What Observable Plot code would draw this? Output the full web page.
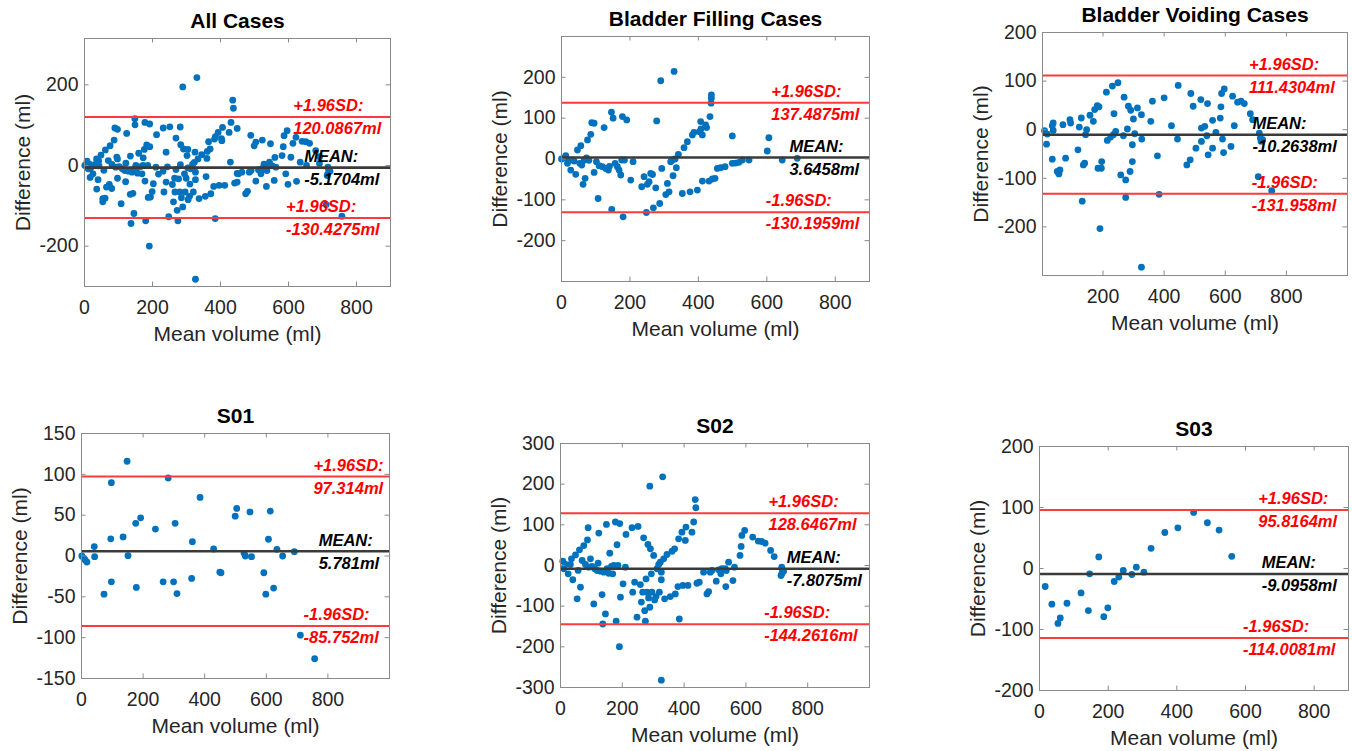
<!DOCTYPE html>
<html><head><meta charset="utf-8">
<script src="https://cdn.jsdelivr.net/npm/d3@7"></script>
<script src="https://cdn.jsdelivr.net/npm/@observablehq/plot@0.6"></script>
<style>
html,body{margin:0;padding:0;background:#fff;overflow:hidden;width:1352px;height:751px;}
#root{position:relative;width:1352px;height:751px;overflow:hidden;}
.panel{position:absolute;}
</style></head><body><div id="root"></div>
<script>
// ---- data: [mean volume (ml), difference (ml)] ----
const s01 = [[1,0],[8,-3],[12,-5],[17.6,-7.4],[41.5,11.5],[42.6,-0.8],[73,-46.7],[97,89.8],[97,-31.6],[95,21],[135,23.4],[148,116],[151,0.4],[176,40],[178,-38.5],[192,46.7],[240,33],[265,-31.6],[281.5,95.5],[299,-31.6],[304,40],[310,-46],[357.5,-27.5],[360,17.6],[385,71.7],[429,8.6],[449,-19.7],[453,-20.5],[499,48.8],[504,58.2],[528,3.3],[532,0],[547,54],[552,-0.8],[592,-20.5],[598.5,-46.7],[607,20.5],[613,55],[623.7,-39.3],[634.5,8.2],[653,0],[691,5.3],[710.6,-97],[757,-125.8]];

const s02 = [[7.5,10.7],[10.8,-8],[16,2.5],[24.8,-20.5],[32,2.5],[39.8,-35],[35.5,16.4],[48.5,26],[53.8,-82],[57,-12],[61.4,38.6],[64.6,-53.4],[70,12.3],[75.4,49],[80.8,2.5],[87.2,63],[89.4,93],[91.5,-4],[97,16.4],[102,-2.5],[107.7,-94.5],[111,-8],[118.5,-12.3],[124,79.7],[121.7,5.8],[129,-14],[134.6,-71.5],[136.8,-143.8],[140,-16.4],[145.4,-119],[148.6,101],[150.8,-8],[156,-19],[159.4,30.4],[164.8,-2.5],[169,-20.5],[172,0],[177.7,107],[180,-137],[183,51],[186,0],[191.7,103],[194,-78],[190.6,-199.7],[202.5,-45],[210,-4],[212,76.4],[231.5,93],[233.7,-65.7],[240,-41],[247.7,-127],[251,96],[258.5,-47],[261.7,-90],[269,68],[266,-65.7],[272.5,-111],[274.7,-137],[276.8,-33],[280,-65.7],[283,51.8],[289,195],[285,-79.7],[291,41],[289,-102.7],[294,-20.5],[296,-65.7],[301.5,24.7],[304.7,-84.6],[309,-76.4],[312.3,-8],[317.7,2.5],[320,-65.7],[323,8],[326.3,-16.4],[326.3,-35],[326.3,-282],[330.6,218],[333.9,16.4],[337,-82],[344.6,27],[355.4,-76.4],[361,35],[369.4,41],[371.6,-70],[382.3,65.7],[384.5,-131.5],[380,-51.8],[393,82],[396,-49],[404,61.6],[406,94.5],[412.5,-49],[425.4,82],[431,107],[436,162],[438,142],[441.5,-43.6],[449,-41],[463,-16.4],[474,-70],[479.4,-64],[484.7,-16.4],[490,-12.3],[504,-38.6],[511.6,-10.7],[522,-8],[533,-8],[535,-51.8],[519,-20.5],[536.6,-12.3],[544,8.2],[558,-37],[563,-4],[581,24.7],[584.6,46.8],[587,74],[596,86.3],[622,70],[640,60],[651,59],[662,55],[680,37],[691.6,22],[716,-4],[716,-20.5],[722,-14],[713.6,-24.7],[718,-10]];

const s03 = [[16.6,-29.5],[36,-58.5],[53.7,-90],[60.5,-81],[80,-57],[121,-40],[142.4,-69],[146,-8.7],[172.7,19],[187.3,-79],[199,-64.5],[217.6,-21.3],[231,-14],[244,-3.3],[269,-9.8],[282,2.2],[304,-6],[325,33],[365,59],[403,66.7],[449,92],[489,75],[523,63],[560,20]];

const filling = [[0,0],[7.7,3],[12.5,8],[17.4,-10.6],[22,-2.5],[27,-27],[32,-2.5],[37,-5],[41.7,-37.6],[46.6,22],[56.4,32.7],[53.4,-10.6],[59.3,-14.8],[63,-62],[69,-47.4],[66,-3],[73,3],[76,46.6],[80,-3],[85.6,60.5],[88.4,89],[95.3,87.5],[95.3,-32.8],[102,-6.6],[107,-96.7],[110,-16.4],[119.6,-18.8],[124.5,77],[129.3,-23],[137,-27],[140,-18],[146,114.6],[146.8,-123.7],[150.8,100],[156.6,-10.6],[163.4,-18.8],[168.3,-27],[173.1,-39.2],[176,-2.5],[178,104],[180,-141.7],[184,-2.5],[190.6,95.7],[202.3,-51.5],[209.1,-6.6],[234.4,-68],[241.2,-43.4],[248,-131],[251,-62],[255.9,-55.6],[260.7,-35.3],[266,-38],[275.4,-70.5],[278.2,93.3],[268.5,-119.6],[287,-109],[293,-23],[290,191.6],[304.6,-87],[309.5,-59.8],[314.3,-80.3],[319,-6.6],[324,-2.5],[329,214.5],[326,-41],[331.8,0],[335.6,-21.3],[341.5,11.4],[358,27.8],[353,-84.5],[367.8,42.5],[375.6,-80.3],[382.4,59],[387.2,65.4],[397,-76.2],[403.3,67],[407.6,73.6],[411.5,59],[421,83.5],[431,-54],[434,104],[437.8,149],[438,157],[437,136.7],[440.8,-49],[448.6,-47.4],[455.4,-23],[465,-21.3],[478,-18.8],[499.2,56.4],[499,-10.6],[509,-10],[518.6,-8.2],[528.4,-2.5],[548,-2.5],[601.3,19.6],[606,52],[645,-2.5],[688.8,1.6],[411.6,-54],[424,77],[406.7,91.6]];

const voiding = [[8.7,-2],[15.3,-29.7],[17.5,-9],[33.9,8.3],[37,13.8],[34,-60.7],[37,-1.4],[50.3,-86],[55.7,-91],[59,-82.8],[68.9,10.3],[77.6,-58.6],[91.8,20.7],[94,13.8],[118,-41.4],[122.4,5.5],[129,24.1],[132,-147],[135.5,-72.4],[140,-69],[143,-10.3],[146.4,0],[157.4,29.7],[168.3,17.2],[172.7,41.4],[181.4,49.7],[187,47],[183.6,-79.3],[190,-203.4],[195.6,-65.5],[194.5,-79.3],[211,77.2],[214,-22],[225,-15.2],[230.6,89.7],[236,33],[234,-10.3],[241.5,-3.4],[249,96.6],[258,-93],[266.7,-12.4],[269,67],[274.3,-103.4],[274.3,-139.3],[279.8,1.4],[283,48.3],[288.5,-86],[290.7,40],[296,-65.5],[296,-31],[299.5,22],[303.8,-8.3],[312.6,44.8],[325.7,31],[325.7,-282.8],[326.8,-19.3],[356.3,17.2],[361.7,58.6],[378,-53.8],[383.6,-133],[400,65.5],[424,8.3],[443.7,-19.3],[446,91],[474.3,-72.4],[485.2,-62],[487.4,74.5],[495,48.3],[504,-38],[520,62],[522,3.4],[522,-24.1],[533,6.9],[539.9,-12.4],[542,53.8],[544,-51.7],[558.5,-38],[558.5,19.3],[569.4,-5.5],[583.6,24],[585.8,47],[588,74.5],[591,-19.3],[596.7,84],[594.5,-47],[618.6,-34.5],[624,69],[629.5,8.3],[640.4,56.6],[651.4,58.6],[662.3,53.8],[682,33],[689.6,20.7],[711.5,-6.9],[714.8,-17.2],[717,-24],[722.4,-20.7],[708,-96.6],[752,-125.5]];

const allCases = [...s01, ...s02, ...s03];

const titles = ["All Cases", "Bladder Filling Cases", "Bladder Voiding Cases", "S01", "S02", "S03"];
const upperLoA = [120.0867, 137.4875, 111.4304, 97.314, 128.6467, 95.8164];
const meanDiff = [-5.1704, 3.6458, -10.2638, 5.781, -7.8075, -9.0958];
const lowerLoA = [-130.4275, -130.1959, -131.958, -85.752, -144.2616, -114.0081];
const upperTag = ["+1.96SD:", "+1.96SD:", "+1.96SD:", "+1.96SD:", "+1.96SD:", "+1.96SD:"];
const lowerTag = ["+1.96SD:", "-1.96SD:", "-1.96SD:", "-1.96SD:", "-1.96SD:", "-1.96SD:"];
const xTicks = [[0,200,400,600,800],[0,200,400,600,800],[200,400,600,800],[0,200,400,600,800],[0,200,400,600,800],[0,200,400,600,800]];
const yTicks = [[-200,0,200],[-200,-100,0,100,200],[-200,-100,0,100,200],[-150,-100,-50,0,50,100,150],[-300,-200,-100,0,100,200,300],[-200,-100,0,100,200]];
const xDomains = [[0,900],[0,900],[2,1000],[0,1000],[0,1000],[0,900]];
const yDomains = [[-300,315],[-300,300],[-300,200],[-150,150],[-300,300],[-200,200]];
const datasets = [allCases, filling, voiding, s01, s02, s03];

// ---- layout (pixels) ----
const frames = [[84,38,390,286],[561,36,869,281],[1042,32,1347,275],[81,433,389,678],[560,443,869,687],[1039,446,1348,690]];
const tagX = [[614,646,593],[613,666,597],[678,689,687],[753,770,721],[673,732,659],[637,647,593]];

const FONT = "'Liberation Sans', Arial, Helvetica, sans-serif";
const BLUE = "#0072BD", REDLINE = "#ff3a3a", REDTEXT = "#ff0000", MEANC = "#3a3a3a", AX = "#262626", FRAMEC = "#8a8a8a";
const mL = 80, mT = 45, mR = 4, mB = 64, TICK = 4.5;
const fmt = d => String(d);

const root = document.getElementById("root");
titles.forEach((title, i) => {
  const [l, t, r, b] = frames[i];
  const W = r - l, H = b - t;
  const redAnn = [
    {x: tagX[i][0], y: upperLoA[i], tag: upperTag[i], val: upperLoA[i] + "ml"},
    {x: tagX[i][2], y: lowerLoA[i], tag: lowerTag[i], val: lowerLoA[i] + "ml"}
  ];
  const meanAnn = [{x: tagX[i][1], y: meanDiff[i], tag: "MEAN:", val: meanDiff[i] + "ml"}];
  const annStyle = {x: "x", y: "y", textAnchor: "start", lineAnchor: "middle", fontWeight: "bold", fontStyle: "italic", fontSize: 16.5, fontFamily: FONT};
  const svg = Plot.plot({
    width: mL + W + mR, height: mT + H + mB,
    marginLeft: mL, marginTop: mT, marginRight: mR, marginBottom: mB,
    style: {fontFamily: FONT, fontSize: "19.5px", color: AX, background: "transparent", overflow: "visible"},
    x: {domain: xDomains[i]},
    y: {domain: yDomains[i]},
    marks: [
      Plot.dot(datasets[i], {x: d => d[0], y: d => d[1], r: 3.4, fill: BLUE, stroke: "none"}),
      Plot.ruleY([upperLoA[i], lowerLoA[i]], {stroke: REDLINE, strokeWidth: 2}),
      Plot.ruleY([meanDiff[i]], {stroke: MEANC, strokeWidth: 2.6}),
      Plot.frame({stroke: FRAMEC, strokeWidth: 1}),
      Plot.tickX(xTicks[i], {x: d => d, insetTop: H - TICK, stroke: FRAMEC}),
      Plot.tickX(xTicks[i], {x: d => d, insetBottom: H - TICK, stroke: FRAMEC}),
      Plot.tickY(yTicks[i], {y: d => d, insetRight: W - TICK, stroke: FRAMEC}),
      Plot.tickY(yTicks[i], {y: d => d, insetLeft: W - TICK, stroke: FRAMEC}),
      Plot.axisX(xTicks[i], {tickSize: 0, tickPadding: 14, fontSize: 19.5, label: null, tickFormat: fmt}),
      Plot.axisY(yTicks[i], {tickSize: 0, tickPadding: 6, fontSize: 19.5, label: null, tickFormat: fmt}),
      Plot.text([title], {frameAnchor: "top", dy: -17, lineAnchor: "middle", fontWeight: "bold", fontSize: 21, fill: "#000"}),
      Plot.text(["Mean volume (ml)"], {frameAnchor: "bottom", dy: 48, lineAnchor: "middle", fontSize: 21, fill: AX}),
      Plot.text(["Difference (ml)"], {frameAnchor: "left", dx: -61, rotate: -90, textAnchor: "middle", lineAnchor: "middle", fontSize: 21, fill: AX}),
      Plot.text(redAnn, {...annStyle, text: "tag", dy: -11, fill: REDTEXT}),
      Plot.text(redAnn, {...annStyle, text: "val", dy: 12, fill: REDTEXT}),
      Plot.text(meanAnn, {...annStyle, text: "tag", dy: -11, fill: "#000"}),
      Plot.text(meanAnn, {...annStyle, text: "val", dy: 12, fill: "#000"})
    ]
  });
  const div = document.createElement("div");
  div.className = "panel";
  div.style.left = (l - mL) + "px";
  div.style.top = (t - mT) + "px";
  div.style.width = (mL + W + mR) + "px";
  div.style.height = (mT + H + mB) + "px";
  div.appendChild(svg);
  root.appendChild(div);
});
</script>
</body></html>
